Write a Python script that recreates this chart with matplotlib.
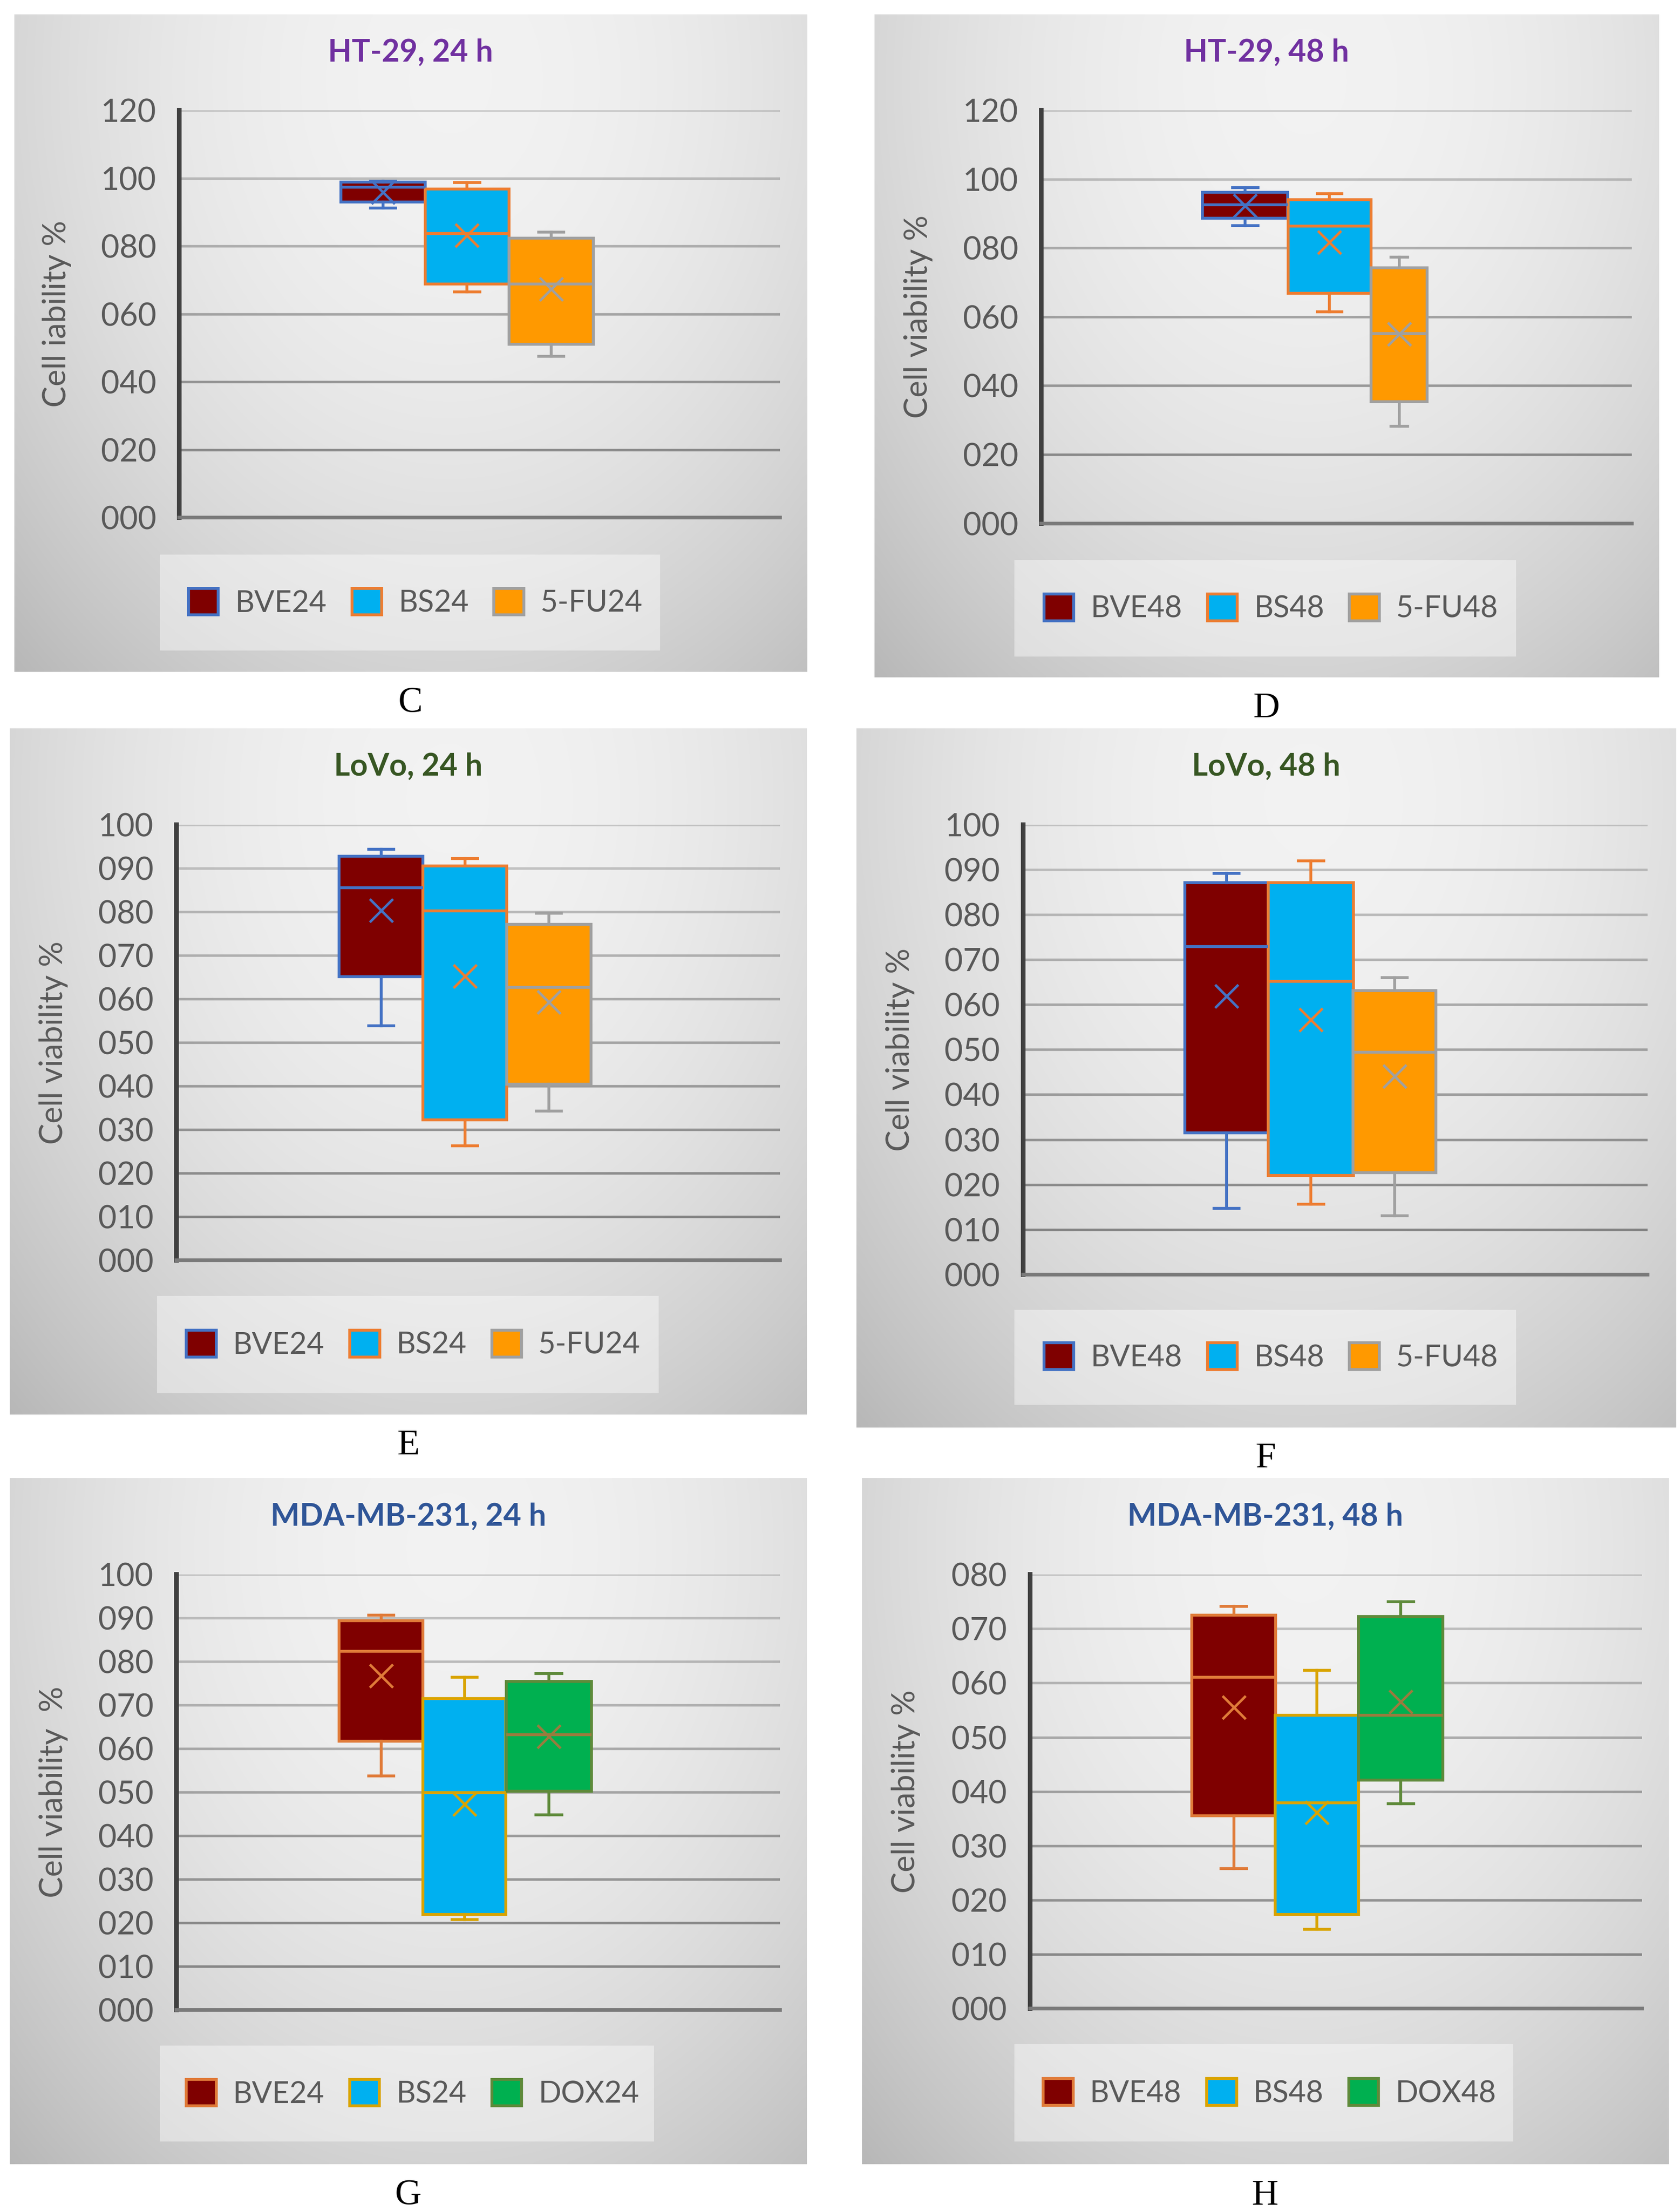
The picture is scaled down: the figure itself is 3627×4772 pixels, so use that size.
import numpy as np
import matplotlib as mpl
import matplotlib.pyplot as plt
from matplotlib.patches import Patch, Rectangle

mpl.rcParams['font.family'] = ['Lato', 'DejaVu Sans']

# box statistics: low whisker, Q1, median, Q3, high whisker, mean
ht29_24_groups = ['BVE24', 'BS24', '5-FU24']
ht29_24_low = [91.2, 66.5, 47.6]
ht29_24_q1 = [93.0, 68.9, 51.1]
ht29_24_med = [97.4, 83.7, 68.9]
ht29_24_q3 = [98.9, 96.8, 82.4]
ht29_24_high = [99.1, 98.7, 84.1]
ht29_24_mean = [95.9, 83.2, 67.4]

ht29_48_groups = ['BVE48', 'BS48', '5-FU48']
ht29_48_low = [86.5, 61.4, 28.2]
ht29_48_q1 = [88.6, 66.8, 35.4]
ht29_48_med = [92.6, 86.4, 55.2]
ht29_48_q3 = [96.2, 94.1, 74.3]
ht29_48_high = [97.5, 95.8, 77.4]
ht29_48_mean = [92.3, 81.6, 55.0]

lovo_24_groups = ['BVE24', 'BS24', '5-FU24']
lovo_24_low = [53.8, 26.3, 34.3]
lovo_24_q1 = [65.1, 32.3, 40.4]
lovo_24_med = [85.5, 80.2, 62.7]
lovo_24_q3 = [92.8, 90.5, 77.1]
lovo_24_high = [94.4, 92.2, 79.7]
lovo_24_mean = [80.3, 65.2, 59.3]

lovo_48_groups = ['BVE48', 'BS48', '5-FU48']
lovo_48_low = [14.7, 15.6, 13.1]
lovo_48_q1 = [31.5, 22.0, 22.6]
lovo_48_med = [72.9, 65.2, 49.4]
lovo_48_q3 = [87.1, 87.1, 63.1]
lovo_48_high = [89.2, 92.0, 66.0]
lovo_48_mean = [61.9, 56.6, 44.1]

mda_24_groups = ['BVE24', 'BS24', 'DOX24']
mda_24_low = [53.8, 20.8, 44.8]
mda_24_q1 = [61.7, 22.0, 50.2]
mda_24_med = [82.4, 49.9, 63.2]
mda_24_q3 = [89.4, 71.5, 75.4]
mda_24_high = [90.7, 76.4, 77.3]
mda_24_mean = [76.7, 47.3, 62.8]

mda_48_groups = ['BVE48', 'BS48', 'DOX48']
mda_48_low = [25.8, 14.6, 37.8]
mda_48_q1 = [35.5, 17.4, 42.1]
mda_48_med = [61.1, 37.9, 54.1]
mda_48_q3 = [72.5, 54.1, 72.2]
mda_48_high = [74.1, 62.3, 75.0]
mda_48_mean = [55.5, 36.1, 56.5]

# colours
fills_fu = ['#7F0000', '#00B0F0', '#FF9900']
edges_fu = ['#4472C4', '#ED7D31', '#A0A0A0']
fills_dox = ['#7F0000', '#00B0F0', '#00B050']
edges_dox = ['#E07B39', '#D9A400', '#5E8A3A']
inner_dox = ['#E07B39', '#D9A400', '#9A7B3E']
txt = '#595959'

# layout in preview pixels (1189 x 1563)
PW, PH = 1189.0, 1563.0
fig = plt.figure(figsize=(3627 / 300, 4772 / 300), dpi=300)
fig.patch.set_facecolor('white')


def rect(x0, y0, x1, y1):
    return [x0 / PW, 1 - y1 / PH, (x1 - x0) / PW, (y1 - y0) / PH]


# radial grey backdrop of each Excel chart area
gy, gx = np.mgrid[0:1:200j, 0:1:200j]
rr = ((gx - 0.55) / 0.75) ** 2 + ((gy - 0.1) / 1.15) ** 2
shade = np.clip(0.95 - 0.2 * rr, 0.72, 0.95)
backdrop = np.dstack([shade, shade, shade])

panels = [
    dict(g=ht29_24_groups, lo=ht29_24_low, q1=ht29_24_q1, md=ht29_24_med, q3=ht29_24_q3,
         hi=ht29_24_high, mn=ht29_24_mean, title='HT-29, 24 h', tc='#7030A0',
         ylab='Cell iability %', ymax=120, step=20, letter='C',
         bg=(10, 10, 571, 475), ax=(127, 78, 552, 366), leg=(113, 392, 467, 460), ylx=40,
         pos=[0.339, 0.479, 0.619], wid=[0.14, 0.14, 0.14],
         fills=fills_fu, edges=edges_fu, inner=edges_fu),
    dict(g=ht29_48_groups, lo=ht29_48_low, q1=ht29_48_q1, md=ht29_48_med, q3=ht29_48_q3,
         hi=ht29_48_high, mn=ht29_48_mean, title='HT-29, 48 h', tc='#7030A0',
         ylab='Cell viability %', ymax=120, step=20, letter='D',
         bg=(619, 10, 1174, 479), ax=(737, 78, 1155, 370), leg=(718, 396, 1073, 464), ylx=650,
         pos=[0.345, 0.488, 0.606], wid=[0.144, 0.14, 0.095],
         fills=fills_fu, edges=edges_fu, inner=edges_fu),
    dict(g=lovo_24_groups, lo=lovo_24_low, q1=lovo_24_q1, md=lovo_24_med, q3=lovo_24_q3,
         hi=lovo_24_high, mn=lovo_24_mean, title='LoVo, 24 h', tc='#375623',
         ylab='Cell viability %', ymax=100, step=10, letter='E',
         bg=(7, 515, 571, 1000), ax=(125, 583, 552, 891), leg=(111, 916, 466, 985), ylx=38,
         pos=[0.339, 0.478, 0.617], wid=[0.139, 0.139, 0.139],
         fills=fills_fu, edges=edges_fu, inner=edges_fu),
    dict(g=lovo_48_groups, lo=lovo_48_low, q1=lovo_48_q1, md=lovo_48_med, q3=lovo_48_q3,
         hi=lovo_48_high, mn=lovo_48_mean, title='LoVo, 48 h', tc='#375623',
         ylab='Cell viability %', ymax=100, step=10, letter='F',
         bg=(606, 515, 1186, 1009), ax=(724, 583, 1166, 901), leg=(718, 926, 1073, 993), ylx=637,
         pos=[0.326, 0.461, 0.595], wid=[0.133, 0.136, 0.133],
         fills=fills_fu, edges=edges_fu, inner=edges_fu),
    dict(g=mda_24_groups, lo=mda_24_low, q1=mda_24_q1, md=mda_24_med, q3=mda_24_q3,
         hi=mda_24_high, mn=mda_24_mean, title='MDA-MB-231, 24 h', tc='#2F5597',
         ylab='Cell viability  %', ymax=100, step=10, letter='G',
         bg=(7, 1045, 571, 1530), ax=(125, 1113, 552, 1421), leg=(113, 1446, 463, 1514), ylx=38,
         pos=[0.339, 0.477, 0.617], wid=[0.139, 0.138, 0.141],
         fills=fills_dox, edges=edges_dox, inner=inner_dox),
    dict(g=mda_48_groups, lo=mda_48_low, q1=mda_48_q1, md=mda_48_med, q3=mda_48_q3,
         hi=mda_48_high, mn=mda_48_mean, title='MDA-MB-231, 48 h', tc='#2F5597',
         ylab='Cell viability %', ymax=80, step=10, letter='H',
         bg=(610, 1045, 1181, 1530), ax=(729, 1113, 1162, 1420), leg=(718, 1445, 1071, 1514), ylx=641,
         pos=[0.333, 0.469, 0.606], wid=[0.137, 0.136, 0.138],
         fills=fills_dox, edges=edges_dox, inner=inner_dox),
]

for p in panels:
    # chart area background
    bax = fig.add_axes(rect(*p['bg']), zorder=0)
    bax.imshow(backdrop, extent=[0, 1, 0, 1], aspect='auto', interpolation='bicubic')
    bax.set_axis_off()

    bx0, by0, bx1, by1 = p['bg']
    fig.text((bx0 + bx1) / 2 / PW, 1 - 37 / PH - (by0 - 10) / PH, p['title'],
             ha='center', va='center', fontsize=16, fontweight='bold', color=p['tc'])
    fig.text((bx0 + bx1) / 2 / PW, 1 - (by1 + 22) / PH, p['letter'],
             ha='center', va='center', fontsize=19, family='Liberation Serif', color='black')

    # legend box
    lx0, ly0, lx1, ly1 = p['leg']
    fig.patches.append(Rectangle((lx0 / PW, 1 - ly1 / PH), (lx1 - lx0) / PW, (ly1 - ly0) / PH,
                                 transform=fig.transFigure, facecolor='white', alpha=0.42,
                                 edgecolor='none', zorder=1))
    handles = [Patch(facecolor=f, edgecolor=e, linewidth=1.5) for f, e in zip(p['fills'], p['edges'])]
    fig.legend(handles, p['g'], loc='center',
               bbox_to_anchor=((lx0 + lx1) / 2 / PW + 4 / PW, 1 - (ly0 + ly1) / 2 / PH),
               ncol=3, frameon=False, fontsize=15.5, handlelength=1.0, handleheight=1.0,
               handletextpad=0.55, columnspacing=0.85, labelcolor=txt)

    ax = fig.add_axes(rect(*p['ax']), zorder=2)
    ax.set_facecolor('none')
    ax.set_xlim(0, 1)
    ax.set_ylim(0, p['ymax'])
    ticks = np.arange(0, p['ymax'] + 1, p['step'])
    ax.set_yticks(ticks)
    ax.set_yticklabels(['%03d' % t for t in ticks])
    ax.tick_params(axis='y', length=0, pad=12, labelsize=16.5, labelcolor=txt)
    ax.set_xticks([])
    for side in ['top', 'right']:
        ax.spines[side].set_visible(False)
    ax.spines['left'].set_color('#404040')
    ax.spines['left'].set_linewidth(2.4)
    ax.spines['bottom'].set_color('#7a7a7a')
    ax.spines['bottom'].set_linewidth(1.9)
    # gridlines fade towards the top
    for t in ticks[1:]:
        frac = t / p['ymax']
        ax.axhline(t, color='#6a6a6a', alpha=0.8 - 0.5 * frac, linewidth=1.3, zorder=1)

    for i in range(3):
        st = dict(med=p['md'][i], q1=p['q1'][i], q3=p['q3'][i], whislo=p['lo'][i],
                  whishi=p['hi'][i], mean=p['mn'][i], fliers=[], label='')
        e, c = p['edges'][i], p['inner'][i]
        ax.bxp([st], positions=[p['pos'][i]], widths=[p['wid'][i]], capwidths=[0.3 * p['wid'][i]],
               patch_artist=True, showmeans=True, showfliers=False, manage_ticks=False,
               boxprops=dict(facecolor=p['fills'][i], edgecolor=e, linewidth=1.5),
               medianprops=dict(color=c, linewidth=1.5),
               whiskerprops=dict(color=e, linewidth=1.5),
               capprops=dict(color=e, linewidth=1.5),
               meanprops=dict(marker='x', markeredgecolor=c, markersize=12, markeredgewidth=1.3),
               zorder=3)

    ax.set_xlim(0, 1)
    ay0, ay1 = p['ax'][1], p['ax'][3]
    fig.text(p['ylx'] / PW, 1 - (ay0 + ay1) / 2 / PH, p['ylab'], rotation=90,
             ha='center', va='center', fontsize=16.5, color=txt)

fig.savefig('out.png', dpi=300)
